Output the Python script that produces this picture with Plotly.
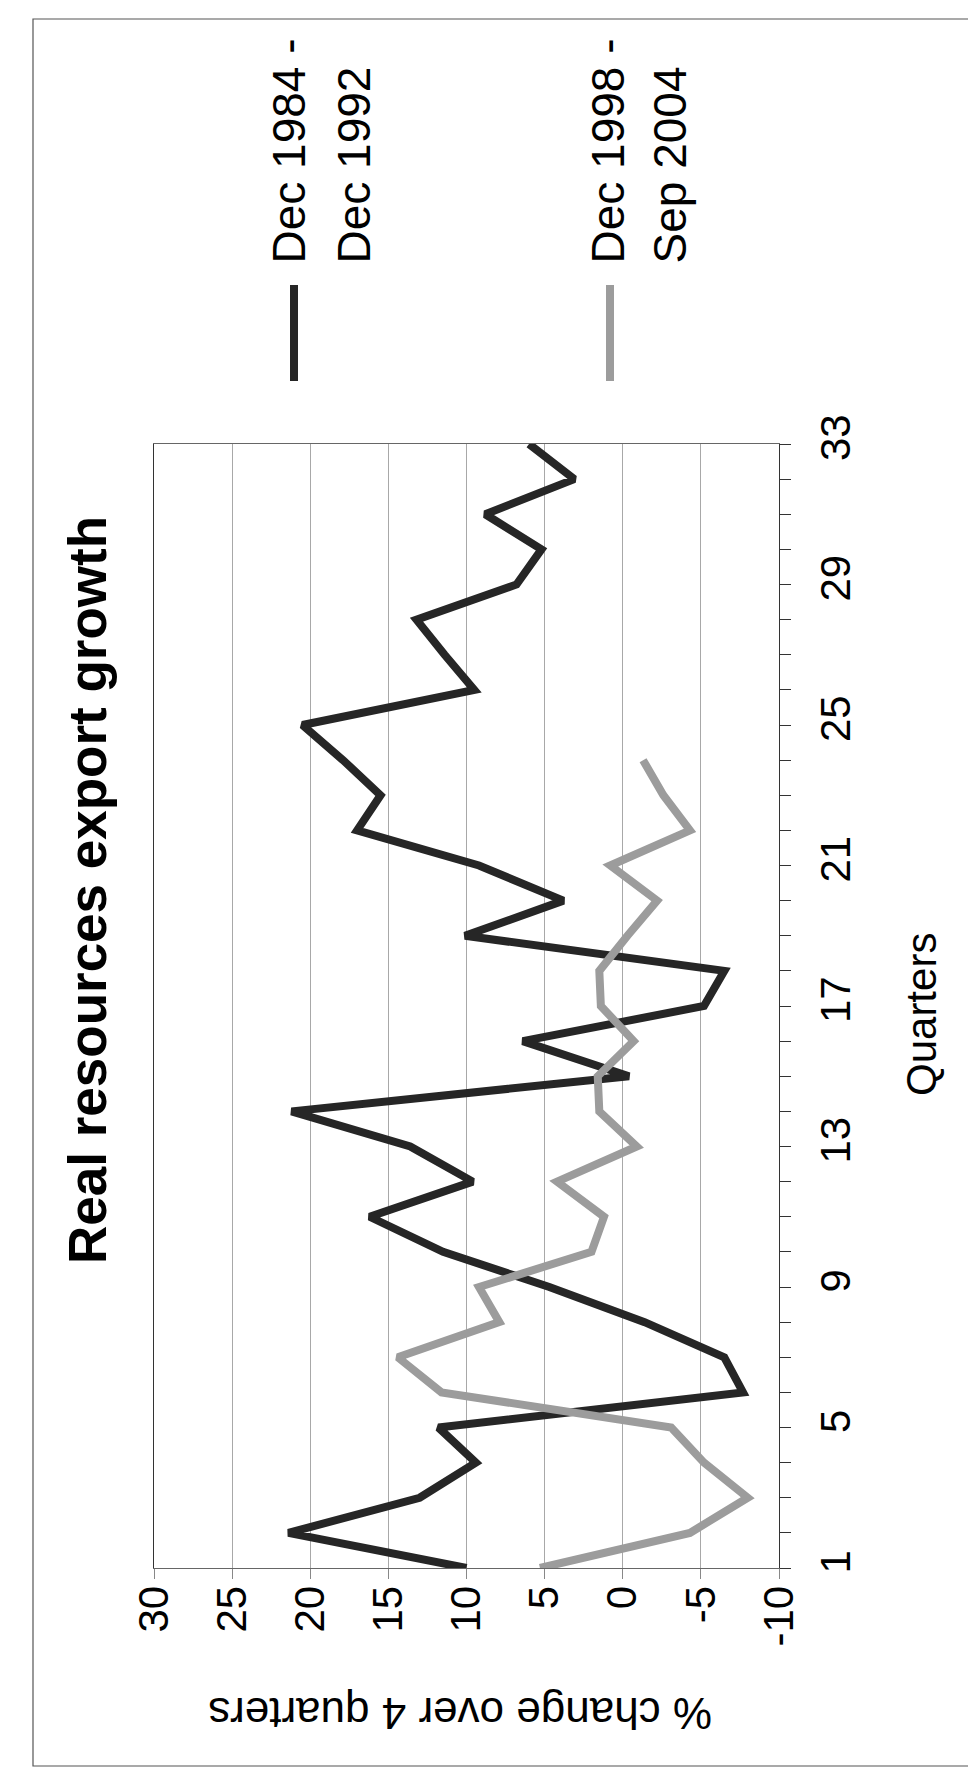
import plotly.graph_objects as go

# ---------------- data ----------------
quarters = list(range(1, 34))
series1_name = ["Dec 1984 -", "Dec 1992"]
series1 = [10.0, 21.4, 13.0, 9.4, 11.8, -7.7, -6.5, -1.4, 4.7, 11.5, 16.2,
           9.6, 13.6, 21.2, -0.4, 6.4, -5.2, -6.5, 10.1, 3.8, 9.2, 17.0,
           15.5, 17.9, 20.5, 9.5, 11.4, 13.2, 6.8, 5.2, 8.8, 3.1, 6.0]
series2_name = ["Dec 1998 -", "Sep 2004"]
series2 = [5.3, -4.3, -8.0, -5.2, -3.1, 11.6, 14.4, 7.9, 9.2, 2.0, 1.2,
           4.2, -0.9, 1.5, 1.6, -0.7, 1.4, 1.5, -0.3, -2.2, 0.8, -4.3,
           -2.6, -1.3]
quarter_ticks = list(range(1, 34))
quarter_labels = ["1", "", "", "", "5", "", "", "", "9", "", "", "", "13", "",
                  "", "", "17", "", "", "", "21", "", "", "", "25", "", "",
                  "", "29", "", "", "", "33"]
value_ticks = [30, 25, 20, 15, 10, 5, 0, -5, -10]
value_labels = ["30", "25", "20", "15", "10", "5", "0", "-5", "-10"]
title_text = "Real resources export growth"
x_title = "Quarters"
y_title = "% change over 4 quarters"

# ---------------- layout helpers ----------------
W, H = 976, 1775
def px(x):
    return x / W
def py(y):
    return 1 - y / H

FONT = "Liberation Sans, Arial, sans-serif"
DARK = "#262626"
GREY = "#9c9c9c"

fig = go.Figure()
fig.add_trace(go.Scatter(x=series1, y=quarters[:len(series1)], mode="lines",
                         line=dict(color=DARK, width=8), showlegend=False))
fig.add_trace(go.Scatter(x=series2, y=quarters[:len(series2)], mode="lines",
                         line=dict(color=GREY, width=8), showlegend=False))

fig.update_layout(
    width=W, height=H, autosize=False,
    margin=dict(l=0, r=0, t=0, b=0),
    paper_bgcolor="white", plot_bgcolor="white",
    showlegend=False,
    xaxis=dict(
        domain=[px(146), px(771)],
        range=[30, -10], autorange=False,
        tickmode="array", tickvals=value_ticks, ticktext=value_labels,
        tickangle=-90, side="bottom",
        ticks="outside", ticklen=10, tickcolor="#888",
        ticklabelstandoff=-10,
        tickfont=dict(family=FONT, size=42, color="black"),
        showgrid=True, gridcolor="#a8a8a8", gridwidth=1,
        showline=True, linecolor="#666", linewidth=1, mirror=True,
        zeroline=False, automargin=False,
    ),
    yaxis=dict(
        domain=[py(1560), py(436)],
        range=[1, 33], autorange=False,
        tickmode="array", tickvals=quarter_ticks, ticktext=quarter_labels,
        tickangle=-90, side="right",
        ticks="outside", ticklen=11, tickcolor="#333",
        ticklabelstandoff=8,
        tickfont=dict(family=FONT, size=42, color="black"),
        showgrid=False,
        showline=True, linecolor="#333", linewidth=1.2, mirror=True,
        zeroline=False, automargin=False,
    ),
)

annotations = [
    dict(text="<b>" + title_text + "</b>", x=px(80), y=py(882), xref="paper", yref="paper",
         textangle=-90, showarrow=False, xanchor="center", yanchor="middle",
         font=dict(family=FONT, size=53, color="black")),
    dict(text=x_title, x=px(913), y=py(1007), xref="paper", yref="paper",
         textangle=-90, showarrow=False, xanchor="center", yanchor="middle",
         font=dict(family=FONT, size=42, color="black")),
    dict(text=y_title, x=px(452), y=py(1706), xref="paper", yref="paper",
         textangle=180, showarrow=False, xanchor="center", yanchor="middle",
         font=dict(family=FONT, size=44, color="black")),
]
# legend (rotated)
legend_items = [
    (series1_name, DARK, 281, 346, 286),
    (series2_name, GREY, 600, 662, 602),
]
shapes = []
for name, color, x1, x2, xl in legend_items:
    shapes.append(dict(type="line", xref="paper", yref="paper",
                       x0=px(xl), x1=px(xl), y0=py(277), y1=py(373),
                       line=dict(color=color, width=8)))
    annotations.append(dict(text=name[0], x=px(x1), y=py(258), xref="paper", yref="paper",
                            textangle=-90, showarrow=False, xanchor="center", yanchor="bottom",
                            font=dict(family=FONT, size=46, color="black")))
    annotations.append(dict(text=name[1], x=px(x2), y=py(258), xref="paper", yref="paper",
                            textangle=-90, showarrow=False, xanchor="center", yanchor="bottom",
                            font=dict(family=FONT, size=46, color="black")))
# page border
shapes.append(dict(type="rect", xref="paper", yref="paper",
                   x0=px(25), x1=px(964), y0=py(1758), y1=py(11),
                   line=dict(color="#555", width=1.2)))

fig.update_layout(annotations=annotations, shapes=shapes)
fig.write_html("out.html")
